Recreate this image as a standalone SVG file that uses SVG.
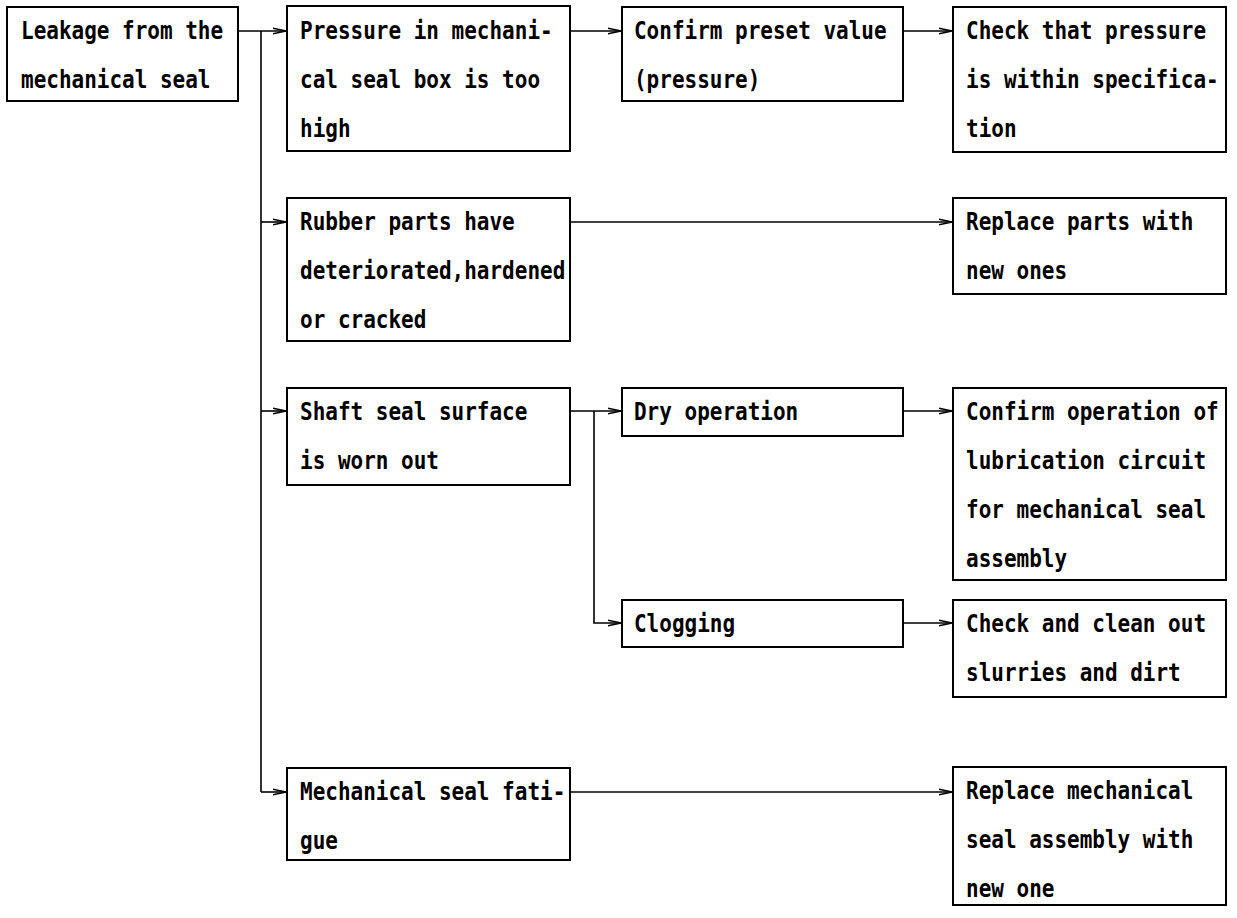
<svg xmlns="http://www.w3.org/2000/svg" width="1237" height="918" viewBox="0 0 1237 918">
<style>
.box{fill:#fff;stroke:#000;stroke-width:2}
.t{font-family:"DejaVu Sans Mono","Liberation Mono",monospace;font-size:24px;font-weight:bold;fill:#000}
.c{fill:none;stroke:#000;stroke-width:1.6}
</style>
<defs>
<marker id="ah" markerWidth="14" markerHeight="8" refX="13" refY="4" orient="auto" markerUnits="userSpaceOnUse">
<path d="M0,1.2 L13,4 L0,6.8" fill="none" stroke="#000" stroke-width="1.5"/>
</marker>
</defs>
<rect width="1237" height="918" fill="#fff"/>
<g id="connectors">
<path class="c" d="M238,31 H286" marker-end="url(#ah)"/>
<path class="c" d="M261,31 V792"/>
<path class="c" d="M261,222 H286" marker-end="url(#ah)"/>
<path class="c" d="M261,411 H286" marker-end="url(#ah)"/>
<path class="c" d="M261,792 H286" marker-end="url(#ah)"/>
<path class="c" d="M570,31 H621" marker-end="url(#ah)"/>
<path class="c" d="M903,31 H952" marker-end="url(#ah)"/>
<path class="c" d="M570,222 H952" marker-end="url(#ah)"/>
<path class="c" d="M570,411 H621" marker-end="url(#ah)"/>
<path class="c" d="M594,411 V623 H621" marker-end="url(#ah)"/>
<path class="c" d="M903,411 H952" marker-end="url(#ah)"/>
<path class="c" d="M903,623 H952" marker-end="url(#ah)"/>
<path class="c" d="M570,792 H952" marker-end="url(#ah)"/>
</g>
<g id="n-leakage"><rect class="box" x="7" y="7" width="231" height="94"/>
<g transform="scale(0.875,1)"><text class="t" x="24" y="39">Leakage from the</text><text class="t" x="24" y="88">mechanical seal</text></g></g>
<g id="n-pressure"><rect class="box" x="287" y="6" width="283" height="145"/>
<g transform="scale(0.875,1)"><text class="t" x="342.86" y="39">Pressure in mechani-</text><text class="t" x="342.86" y="88">cal seal box is too</text><text class="t" x="342.86" y="137">high</text></g></g>
<g id="n-confirm-preset"><rect class="box" x="622" y="7" width="281" height="94"/>
<g transform="scale(0.875,1)"><text class="t" x="724.57" y="39">Confirm preset value</text><text class="t" x="724.57" y="88">(pressure)</text></g></g>
<g id="n-check-pressure"><rect class="box" x="953" y="7" width="273" height="145"/>
<g transform="scale(0.875,1)"><text class="t" x="1104" y="39">Check that pressure</text><text class="t" x="1104" y="88">is within specifica-</text><text class="t" x="1104" y="137">tion</text></g></g>
<g id="n-rubber"><rect class="box" x="287" y="198" width="283" height="143"/>
<g transform="scale(0.875,1)"><text class="t" x="342.86" y="230">Rubber parts have</text><text class="t" x="342.86" y="279">deteriorated,hardened</text><text class="t" x="342.86" y="328">or cracked</text></g></g>
<g id="n-replace-parts"><rect class="box" x="953" y="198" width="273" height="96"/>
<g transform="scale(0.875,1)"><text class="t" x="1104" y="230">Replace parts with</text><text class="t" x="1104" y="279">new ones</text></g></g>
<g id="n-shaft"><rect class="box" x="287" y="388" width="283" height="97"/>
<g transform="scale(0.875,1)"><text class="t" x="342.86" y="420">Shaft seal surface</text><text class="t" x="342.86" y="469">is worn out</text></g></g>
<g id="n-dry"><rect class="box" x="622" y="388" width="281" height="48"/>
<g transform="scale(0.875,1)"><text class="t" x="724.57" y="420">Dry operation</text></g></g>
<g id="n-confirm-lub"><rect class="box" x="953" y="388" width="273" height="192"/>
<g transform="scale(0.875,1)"><text class="t" x="1104" y="420">Confirm operation of</text><text class="t" x="1104" y="469">lubrication circuit</text><text class="t" x="1104" y="518">for mechanical seal</text><text class="t" x="1104" y="567">assembly</text></g></g>
<g id="n-clogging"><rect class="box" x="622" y="600" width="281" height="47"/>
<g transform="scale(0.875,1)"><text class="t" x="724.57" y="632">Clogging</text></g></g>
<g id="n-check-clean"><rect class="box" x="953" y="600" width="273" height="97"/>
<g transform="scale(0.875,1)"><text class="t" x="1104" y="632">Check and clean out</text><text class="t" x="1104" y="681">slurries and dirt</text></g></g>
<g id="n-fatigue"><rect class="box" x="287" y="768" width="283" height="92"/>
<g transform="scale(0.875,1)"><text class="t" x="342.86" y="800">Mechanical seal fati-</text><text class="t" x="342.86" y="849">gue</text></g></g>
<g id="n-replace-seal"><rect class="box" x="953" y="767" width="273" height="138"/>
<g transform="scale(0.875,1)"><text class="t" x="1104" y="799">Replace mechanical</text><text class="t" x="1104" y="848">seal assembly with</text><text class="t" x="1104" y="897">new one</text></g></g>
</svg>
